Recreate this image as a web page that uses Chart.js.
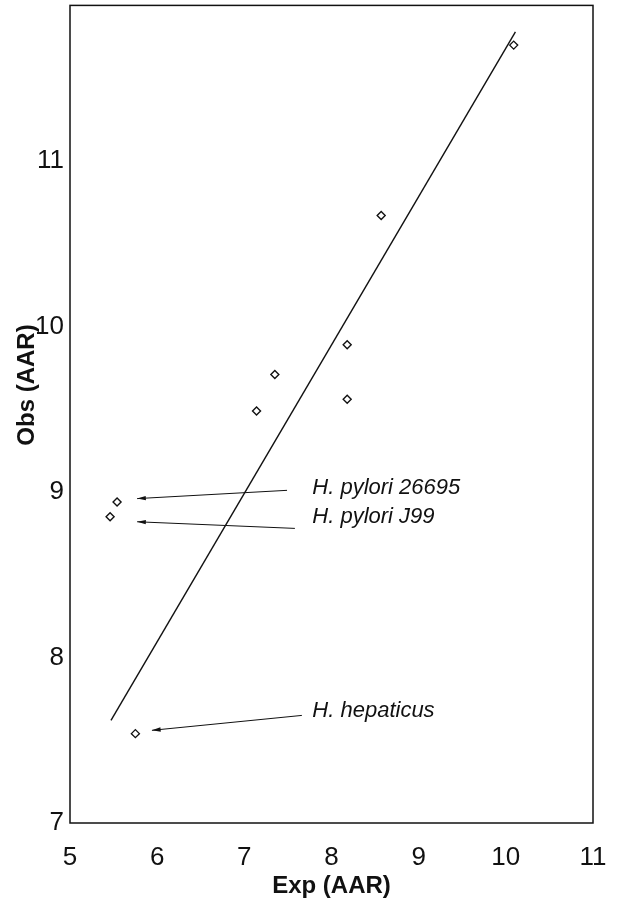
<!DOCTYPE html>
<html>
<head>
<meta charset="utf-8">
<script src="https://cdn.jsdelivr.net/npm/chart.js@4"></script>
<style>
    html, body { margin: 0; padding: 0; background: #fff; }
    #wrap { width: 619px; height: 905px; }
</style>
</head>
<body>
<div id="wrap"><canvas id="chart" width="619" height="905"></canvas></div>
<script>
// observed vs expected AAR
const expValues = [10.09, 8.57, 8.18, 8.18, 7.35, 7.14, 5.54, 5.46, 5.75];
const obsValues = [11.70, 10.67, 9.89, 9.56, 9.71, 9.49, 8.94, 8.85, 7.54];

// regression line end points
const fitX = [5.47, 10.11];
const fitY = [7.62, 11.78];

const xTicks = [5, 6, 7, 8, 9, 10, 11];
const yTicks = [7, 8, 9, 10, 11];

// labelled strains: text, label anchor, arrow tail, arrow tip (data units)
const labelNames = ['H. pylori 26695', 'H. pylori J99', 'H. hepaticus'];
const labelX = [7.78, 7.78, 7.78];
const labelY = [8.99, 8.81, 7.64];
const arrowFromX = [7.49, 7.58, 7.66];
const arrowFromY = [9.01, 8.78, 7.65];
const arrowToX = [5.77, 5.77, 5.94];
const arrowToY = [8.96, 8.82, 7.56];

const FONT = '"Liberation Sans", Arial, sans-serif';

const framePlugin = {
    id: 'frame',
    afterDraw(chart) {
        const { ctx, chartArea: a, scales: { x, y } } = chart;
        ctx.save();
        ctx.strokeStyle = '#111';
        ctx.lineWidth = 1.5;
        ctx.strokeRect(a.left, a.top, a.right - a.left, a.bottom - a.top);

        // arrows + labels
        ctx.lineWidth = 1;
        ctx.fillStyle = '#111';
        labelNames.forEach((name, i) => {
            const x0 = x.getPixelForValue(arrowFromX[i]);
            const y0 = y.getPixelForValue(arrowFromY[i]);
            const x1 = x.getPixelForValue(arrowToX[i]);
            const y1 = y.getPixelForValue(arrowToY[i]);
            ctx.beginPath();
            ctx.moveTo(x0, y0);
            ctx.lineTo(x1, y1);
            ctx.stroke();
            const ang = Math.atan2(y1 - y0, x1 - x0);
            ctx.beginPath();
            ctx.moveTo(x1, y1);
            ctx.lineTo(x1 - 9 * Math.cos(ang - 0.25), y1 - 9 * Math.sin(ang - 0.25));
            ctx.lineTo(x1 - 9 * Math.cos(ang + 0.25), y1 - 9 * Math.sin(ang + 0.25));
            ctx.closePath();
            ctx.fill();

            ctx.font = 'italic 22px ' + FONT;
            ctx.textAlign = 'left';
            ctx.textBaseline = 'alphabetic';
            ctx.fillText(name, x.getPixelForValue(labelX[i]), y.getPixelForValue(labelY[i]));
        });

        // axis titles
        ctx.font = 'bold 24px ' + FONT;
        ctx.textAlign = 'center';
        ctx.textBaseline = 'middle';
        ctx.fillText('Exp (AAR)', (a.left + a.right) / 2, 886);
        ctx.translate(27, 385);
        ctx.rotate(-Math.PI / 2);
        ctx.fillText('Obs (AAR)', 0, 0);
        ctx.restore();
    }
};

new Chart(document.getElementById('chart'), {
    type: 'scatter',
    data: {
        datasets: [
            {
                label: 'Strains',
                data: expValues.map((v, i) => ({ x: v, y: obsValues[i] })),
                pointStyle: 'rectRot',
                pointRadius: 4,
                pointBorderWidth: 1.4,
                borderColor: '#111',
                backgroundColor: '#fff'
            },
            {
                label: 'Fit',
                type: 'line',
                data: fitX.map((v, i) => ({ x: v, y: fitY[i] })),
                borderColor: '#111',
                borderWidth: 1.4,
                pointRadius: 0,
                fill: false
            }
        ]
    },
    options: {
        responsive: false,
        animation: false,
        layout: { padding: { top: 5, right: 26, left: 0, bottom: 0 } },
        plugins: {
            legend: { display: false },
            tooltip: { enabled: false }
        },
        scales: {
            x: {
                type: 'linear',
                min: 5,
                max: 11,
                afterFit(scale) {
                    scale.height = 82;
                    scale.paddingLeft = 0;
                    scale.paddingRight = 0;
                },
                afterBuildTicks(scale) { scale.ticks = xTicks.map(v => ({ value: v })); },
                grid: { display: false, drawTicks: false },
                border: { display: false },
                ticks: {
                    padding: 19,
                    color: '#111',
                    font: { family: FONT, size: 26 }
                }
            },
            y: {
                type: 'linear',
                min: 7,
                max: 11.94,
                afterFit(scale) {
                    scale.width = 70;
                    scale.paddingTop = 0;
                    scale.paddingBottom = 0;
                },
                afterBuildTicks(scale) { scale.ticks = yTicks.map(v => ({ value: v })); },
                grid: { display: false, drawTicks: false },
                border: { display: false },
                ticks: {
                    padding: 6,
                    color: '#111',
                    font: { family: FONT, size: 26 }
                }
            }
        }
    },
    plugins: [framePlugin]
});
</script>
</body>
</html>
